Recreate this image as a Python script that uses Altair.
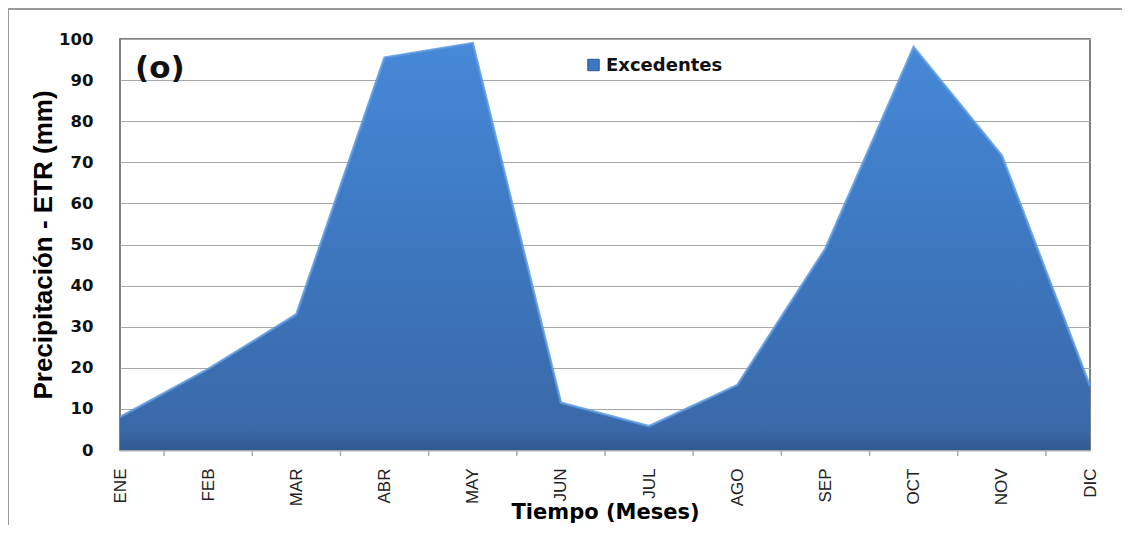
import altair as alt
import pandas as pd

months = ["ENE", "FEB", "MAR", "ABR", "MAY", "JUN", "JUL", "AGO", "SEP", "OCT", "NOV", "DIC"]
excedentes = [8, 19.7, 33, 95.5, 99, 11.5, 5.8, 15.8, 49, 98, 71.6, 15.5]
y_ticks = [0, 10, 20, 30, 40, 50, 60, 70, 80, 90, 100]

df = pd.DataFrame({"idx": list(range(len(months))), "mes": months, "val": excedentes})
ticks_df = pd.DataFrame({"t": [i + 0.5 for i in range(len(months) - 1)]})
one = pd.DataFrame({"k": [0]})

W, H = 970, 411
FONT = "Liberation Sans"
WIDE = "DejaVu Sans"

label_expr = "[" + ",".join(f"'{m}'" for m in months) + "][datum.value]"

x_enc = alt.X("idx:Q", scale=alt.Scale(domain=[0, 11], nice=False, zero=False),
              axis=alt.Axis(values=list(range(12)), labelExpr=label_expr, labelAngle=-90,
                            labelAlign="right", labelBaseline="middle", labelPadding=18,
                            labelFont=FONT, labelFontSize=17, labelColor="#222",
                            ticks=False, grid=False, domainColor="#aaa", domainWidth=2,
                            title="Tiempo (Meses)", titleFont=WIDE, titleFontSize=21,
                            titleFontWeight="bold", titleColor="#000", titlePadding=-4))
y_enc = alt.Y("val:Q", scale=alt.Scale(domain=[0, 100], nice=False),
              axis=alt.Axis(values=y_ticks, labelFont=WIDE, labelFontSize=16.5, labelFontWeight="bold",
                            labelColor="#111", labelPadding=27, ticks=False, domain=False,
                            grid=True, gridColor="#a8a8a8", gridWidth=1,
                            title="Precipitación - ETR (mm)", titleFont=FONT, titleFontSize=26,
                            titleFontWeight="bold", titleColor="#000", titlePadding=2))

grad = alt.Gradient(gradient="linear", x1=0, y1=0, x2=0, y2=1,
                    stops=[alt.GradientStop(color="#4689d8", offset=0),
                           alt.GradientStop(color="#3d77c0", offset=0.5),
                           alt.GradientStop(color="#3a69a8", offset=0.95),
                           alt.GradientStop(color="#2f5a8f", offset=1)])

area = alt.Chart(df).mark_area(fill=grad, line=False).encode(x=x_enc, y=y_enc)
edge = alt.Chart(df).mark_line(stroke="#5a99e0", strokeWidth=2.5, opacity=0.85).encode(x="idx:Q", y="val:Q")

tickmarks = alt.Chart(ticks_df).mark_rule(color="#aaa", strokeWidth=1.5).encode(
    x="t:Q", y=alt.value(H), y2=alt.value(H + 6))

label_o = alt.Chart(one).mark_text(text="(o)", font=WIDE, fontSize=31, fontWeight="bold",
                                   align="left", baseline="middle", color="#111").encode(
    x=alt.value(15), y=alt.value(30))

leg_sym = alt.Chart(one).mark_square(size=130, color="#3a78c4", stroke="#2a5590", strokeWidth=1, opacity=1).encode(
    x=alt.value(473.5), y=alt.value(26))
leg_txt = alt.Chart(one).mark_text(text="Excedentes", font=WIDE, fontSize=18, fontWeight="bold",
                                   align="left", baseline="middle", color="#111").encode(
    x=alt.value(486), y=alt.value(27))

outer = alt.Chart(one).mark_rect(fill=None, stroke="#9a9a9a", strokeWidth=2).encode(
    x=alt.value(-112), x2=alt.value(1010), y=alt.value(-30), y2=alt.value(530))

chart = alt.layer(outer, area, edge, tickmarks, label_o, leg_sym, leg_txt).properties(
    width=W, height=H,
    autosize=alt.AutoSizeParams(type="none"),
    padding={"left": 112, "top": 31, "right": 32, "bottom": 75},
    background="white",
).configure_view(stroke="#555", strokeWidth=1.5)

chart.save("out.html", embed_options={"renderer": "svg", "actions": False})
